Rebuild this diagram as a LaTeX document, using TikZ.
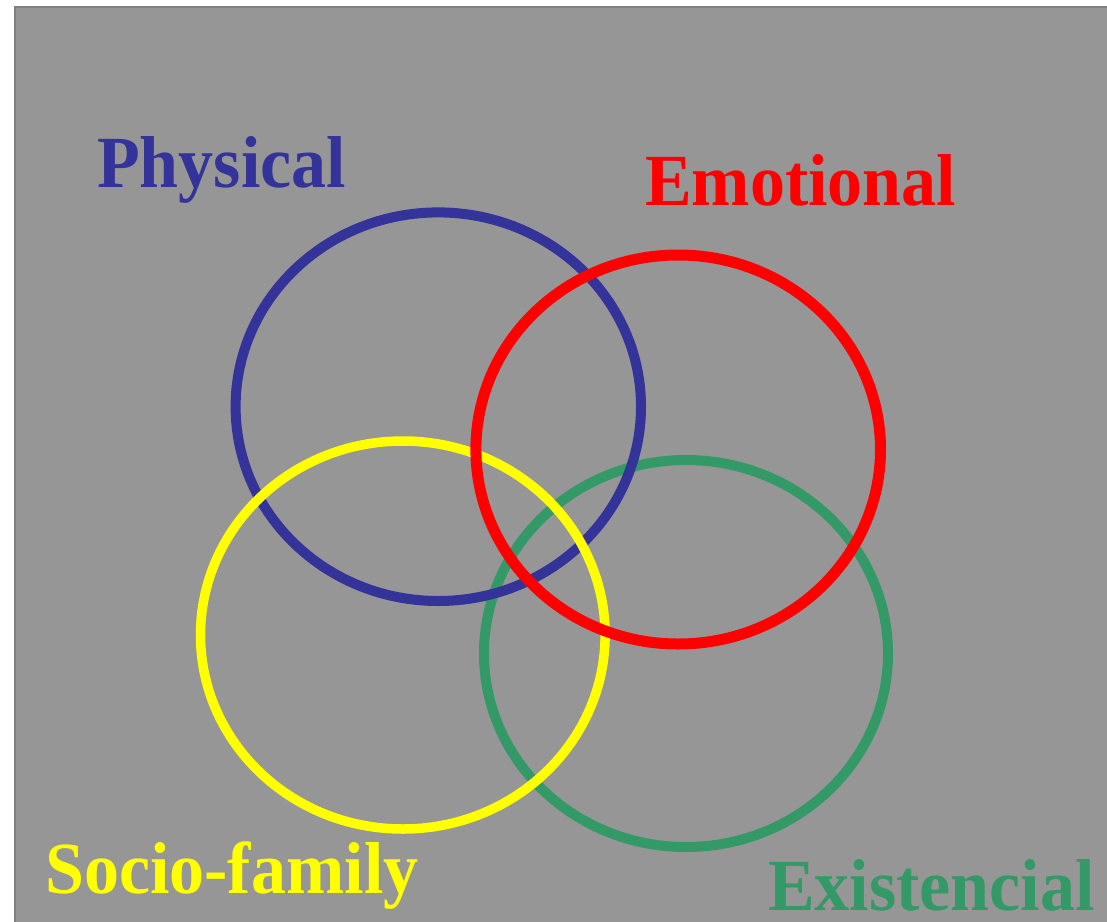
\documentclass[tikz,border=0pt]{standalone}
\usepackage{fontspec}
\setmainfont{Liberation Serif}
\definecolor{bggray}{RGB}{150,150,150}
\definecolor{framegray}{RGB}{128,128,128}
\definecolor{cblue}{RGB}{51,51,153}
\definecolor{cred}{RGB}{255,0,0}
\definecolor{cyellow}{RGB}{255,255,0}
\definecolor{cgreen}{RGB}{51,153,102}
\tikzset{
  ring/.style={line width=10pt},
  lbl/.style={anchor=base west, inner sep=0pt, text depth=0pt, font=\fontsize{70}{80}\selectfont\bfseries, yscale=1.05}
}
\begin{document}
\begin{tikzpicture}[x=1pt,y=-1pt]
\useasboundingbox (0,0) rectangle (1107,921);
\fill[white] (0,0) rectangle (1107,921);
\filldraw[fill=bggray, draw=framegray, line width=1.5pt] (15,7) -- (1110,7) -- (1110,925) -- (15,925) -- cycle;
\draw[ring, cgreen] (686,653.5) ellipse [x radius=202, y radius=193.5];
\draw[ring, cblue] (438.3,406.7) ellipse [x radius=202.7, y radius=194.3];
\draw[ring, cyellow, line width=9.5pt] (402.8,635) ellipse [x radius=202.3, y radius=194];
\draw[ring, cred, line width=11pt] (678.2,449.5) ellipse [x radius=202.3, y radius=194.5];
\node[lbl, text=cblue] (phys) at (97,187) {Physical};
\node[lbl, text=cred] (emo) at (645,205) {Emotional};
\node[lbl, text=cyellow] (soc) at (45,893) {Socio-family};
\node[lbl, text=cgreen] (exi) at (768,910) {Existencial};
\end{tikzpicture}
\end{document}
